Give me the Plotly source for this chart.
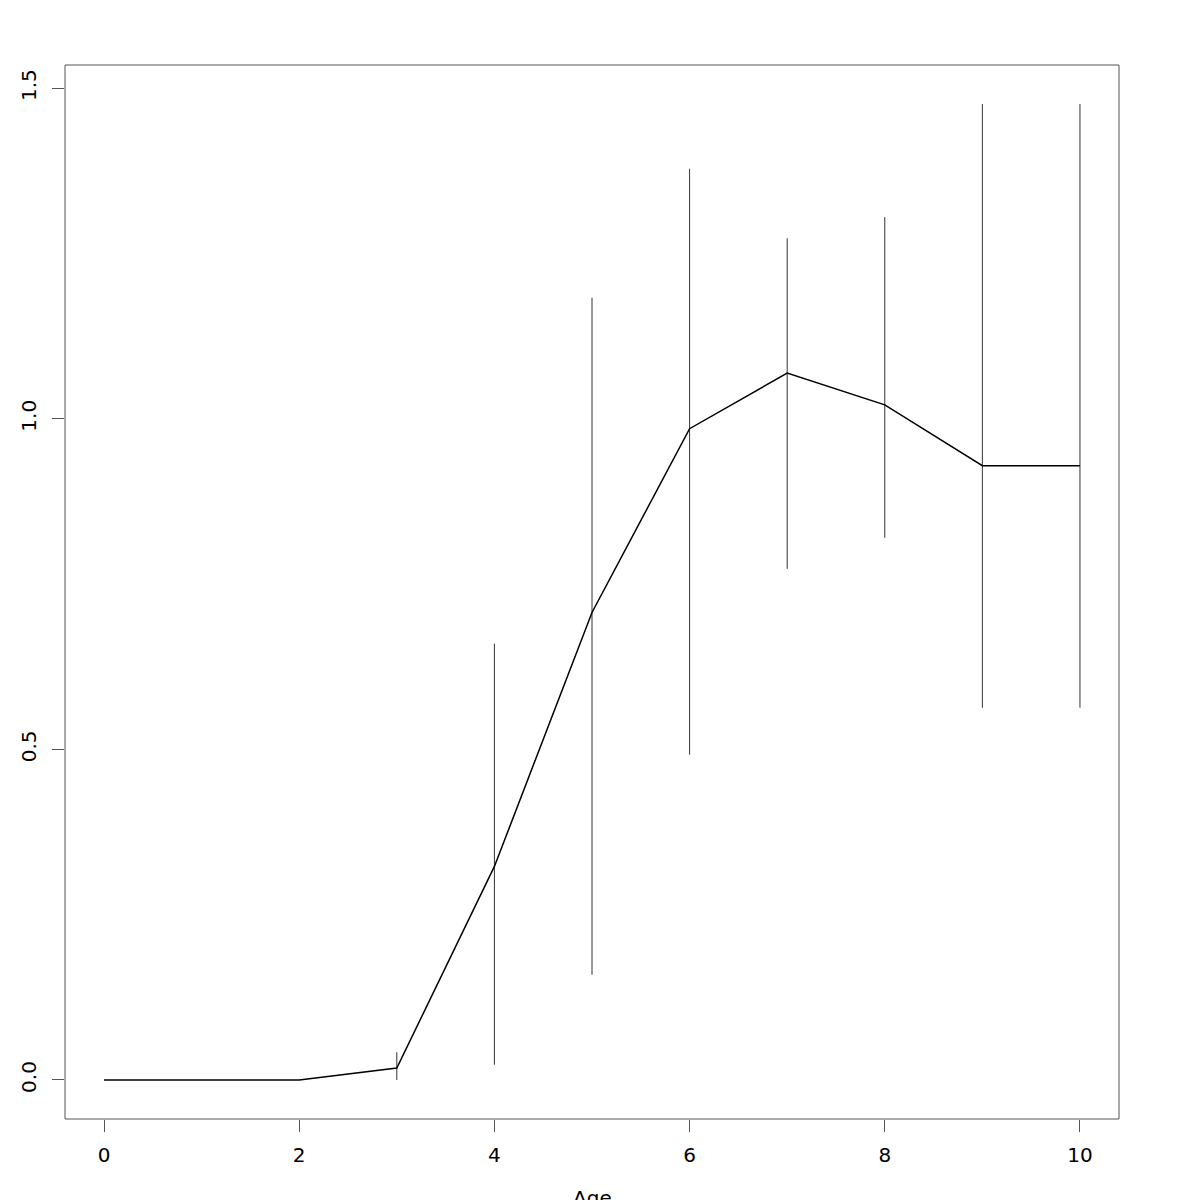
import plotly.graph_objects as go

age = [0, 2, 3, 4, 5, 6, 7, 8, 9, 10]
mean_val = [0.0, 0.0, 0.018, 0.323, 0.707, 0.985, 1.069, 1.021, 0.929, 0.929]
upper = [0.0, 0.0, 0.042, 0.660, 1.183, 1.378, 1.273, 1.305, 1.476, 1.476]
lower = [0.0, 0.0, 0.000, 0.023, 0.159, 0.492, 0.773, 0.820, 0.563, 0.563]
x_ticks = [0, 2, 4, 6, 8, 10]
y_ticks = [0.0, 0.5, 1.0, 1.5]
y_tick_text = ["0.0", "0.5", "1.0", "1.5"]

err_plus = [u - m for u, m in zip(upper, mean_val)]
err_minus = [m - l for m, l in zip(mean_val, lower)]

fig = go.Figure()
fig.add_trace(go.Scatter(
    x=age, y=mean_val, mode="lines",
    line=dict(color="black", width=1.5),
    error_y=dict(type="data", symmetric=False, array=err_plus, arrayminus=err_minus,
                 width=0, thickness=1, color="#333333"),
    showlegend=False,
))

font = dict(family="DejaVu Sans, Liberation Sans, sans-serif", size=20, color="black")
fig.update_layout(
    width=1200, height=1200,
    margin=dict(l=57, r=89, t=57, b=89),
    paper_bgcolor="white", plot_bgcolor="white",
    font=font,
    xaxis=dict(range=[-0.4, 10.4], tickvals=x_ticks, ticks="outside", ticklen=12,
               tickcolor="#555555", showgrid=False, zeroline=False, showline=False,
               tickfont=font, ticklabelstandoff=6, automargin=False),
    yaxis=dict(range=[-0.059, 1.535], tickvals=y_ticks, ticktext=y_tick_text,
               ticks="outside", ticklen=12, tickcolor="#555555", tickangle=-90,
               showgrid=False, zeroline=False, showline=False, tickfont=font,
               ticklabelstandoff=8, automargin=False),
    shapes=[dict(type="rect", xref="paper", yref="paper", x0=0, y0=0, x1=1, y1=1,
                 line=dict(color="#555555", width=1))],
    annotations=[dict(text="Age", xref="paper", yref="paper", x=0.5, y=-0.062,
                      xanchor="center", yanchor="top", showarrow=False,
                      font=dict(family="DejaVu Sans, sans-serif", size=20, color="black"))],
)

fig.write_html("out.html")
